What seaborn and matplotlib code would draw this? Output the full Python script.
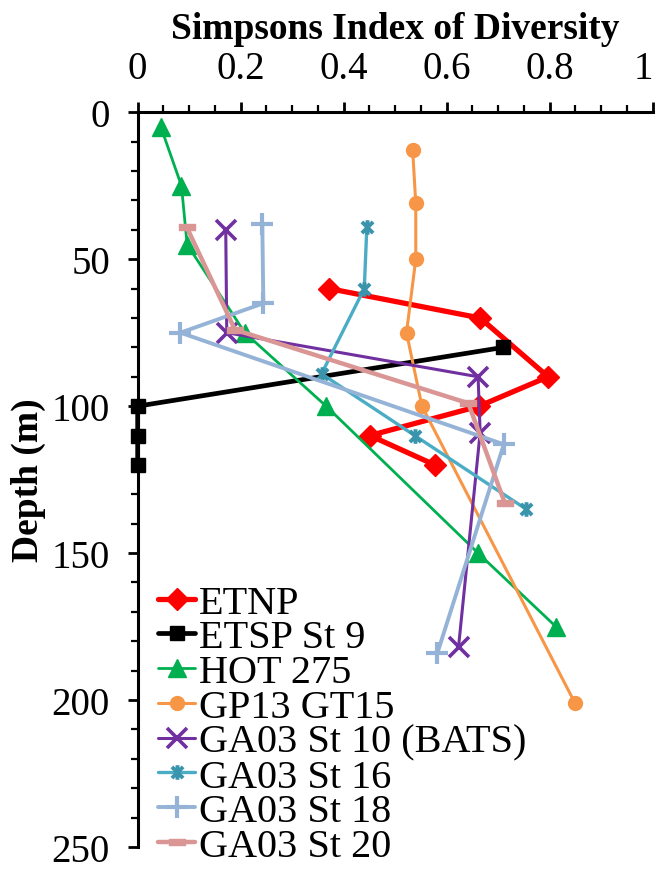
import matplotlib
matplotlib.use("Agg")
import matplotlib.pyplot as plt
import matplotlib.transforms as mtransforms
from matplotlib.path import Path
import seaborn as sns
import pandas as pd

# ---- data (Simpson index, depth m) ----
etnp_x = [0.372, 0.665, 0.797, 0.663, 0.451, 0.577]
etnp_d = [60, 70, 90, 100, 110, 120]
etsp_x = [0.71, 0.0, 0.0, 0.0]
etsp_d = [80, 100, 110, 120]
hot_x = [0.045, 0.085, 0.096, 0.208, 0.366, 0.661, 0.812]
hot_d = [5, 25, 45, 75, 100, 150, 175]
gp13_x = [0.534, 0.540, 0.540, 0.522, 0.552, 0.849]
gp13_d = [13, 31, 50, 75, 100, 201]
bats_x = [0.171, 0.173, 0.661, 0.665, 0.623]
bats_d = [40, 75, 90, 109, 182]
st16_x = [0.445, 0.440, 0.357, 0.538, 0.754]
st16_d = [39, 60, 89, 110, 135]
st18_x = [0.242, 0.244, 0.083, 0.711, 0.582]
st18_d = [38, 65, 75, 113, 184]
st20_x = [0.095, 0.189, 0.642, 0.713]
st20_d = [39, 74, 99, 133]

names = ["ETNP", "ETSP St 9", "HOT 275", "GP13 GT15", "GA03 St 10 (BATS)",
         "GA03 St 16", "GA03 St 18", "GA03 St 20"]
xs = [etnp_x, etsp_x, hot_x, gp13_x, bats_x, st16_x, st18_x, st20_x]
ds = [etnp_d, etsp_d, hot_d, gp13_d, bats_d, st16_d, st18_d, st20_d]
x_ticks = [0, 0.2, 0.4, 0.6, 0.8, 1]
x_tick_labels = ["0", "0.2", "0.4", "0.6", "0.8", "1"]
y_ticks = [0, 50, 100, 150, 200, 250]

star = Path([(-1, -1), (1, 1), (-1, 1), (1, -1), (0, -1.3), (0, 1.3)],
            [Path.MOVETO, Path.LINETO, Path.MOVETO, Path.LINETO, Path.MOVETO, Path.LINETO])
dash = Path([(-1, -0.4), (1, -0.4), (1, 0.4), (-1, 0.4), (-1, -0.4)],
            [Path.MOVETO, Path.LINETO, Path.LINETO, Path.LINETO, Path.CLOSEPOLY])

styles = [
    dict(color="#FF0000", lw=3.8, marker="D", ms=11.5, mfc="#FF0000", mec="#FF0000", mew=1),
    dict(color="#000000", lw=3.4, marker="s", ms=9.5, mfc="#000000", mec="#000000", mew=1),
    dict(color="#00B050", lw=2.0, marker="^", ms=13, mfc="#00B050", mec="#00B050", mew=1),
    dict(color="#F79646", lw=2.2, marker="o", ms=10, mfc="#F79646", mec="#F79646", mew=1),
    dict(color="#7030A0", lw=2.2, marker="x", ms=14, mfc="#7030A0", mec="#7030A0", mew=2.6),
    dict(color="#4BACC6", lw=2.4, marker=star, ms=10.5, mfc="none", mec="#3A94AC", mew=2.8),
    dict(color="#95B3D7", lw=2.8, marker="+", ms=16, mfc="#95B3D7", mec="#95B3D7", mew=3),
    dict(color="#D99694", lw=3.2, marker=dash, ms=11, mfc="#D99694", mec="#D99694", mew=1),
]

sns.set_style("white")
plt.rcParams["font.family"] = ["Liberation Serif", "DejaVu Serif"]
for k in ["text.color", "axes.labelcolor", "xtick.color", "ytick.color"]:
    plt.rcParams[k] = "black"

fig = plt.figure(figsize=(6.6, 8.7), dpi=100)
ax = fig.add_axes([0.2086, 0.0253, 0.7803, 0.8445])

for name, x, d, st in zip(names, xs, ds, styles):
    df = pd.DataFrame({"x": x, "d": d})
    sns.lineplot(data=df, x="x", y="d", sort=False, estimator=None, ax=ax,
                 color=st["color"], linewidth=st["lw"], marker=st["marker"],
                 markersize=st["ms"], markerfacecolor=st["mfc"],
                 markeredgecolor=st["mec"], markeredgewidth=st["mew"],
                 label=name, clip_on=False, zorder=3)

ax.set_xlim(0, 1)
ax.set_ylim(250, 0)
ax.xaxis.tick_top()
ax.xaxis.set_label_position("top")
ax.set_xticks(x_ticks)
ax.set_xticklabels(x_tick_labels)
ax.set_xticks([i * 0.05 for i in range(21)], minor=True)
ax.set_yticks(y_ticks)
ax.set_yticks(list(range(0, 251, 10)), minor=True)

for s in ["right", "bottom"]:
    ax.spines[s].set_visible(False)
for s in ["left", "top"]:
    ax.spines[s].set_color("black")
    ax.spines[s].set_linewidth(2.2)

ax.tick_params(axis="both", which="major", direction="out", length=7, width=2,
               labelsize=28, color="black", labelcolor="black")
ax.tick_params(axis="both", which="minor", direction="out", length=5, width=1.6,
               color="black")
ax.tick_params(axis="x", which="both", top=True, bottom=False, pad=11)
ax.tick_params(axis="y", which="both", left=True, right=False, pad=13)

# nudge the last x tick label ("1") inward so it is not cut at the edge
last = ax.get_xticklabels()[-1]
last.set_transform(last.get_transform() +
                   mtransforms.ScaledTranslation(-9 / 100, 0, fig.dpi_scale_trans))

ax.set_xlabel("Simpsons Index of Diversity", fontsize=27, fontweight="bold", labelpad=9)
ax.set_ylabel("Depth (m)", fontsize=27, fontweight="bold", labelpad=4)
ax.grid(False)

leg = ax.legend(loc="upper left", bbox_to_anchor=(0.24, 0.327),
                bbox_transform=fig.transFigure, frameon=False, fontsize=29,
                handlelength=0.9, handletextpad=0.1, labelspacing=-0.06,
                borderpad=0, borderaxespad=0)
for t in leg.get_texts():
    t.set_color("black")

fig.savefig("out.png", dpi=100)
